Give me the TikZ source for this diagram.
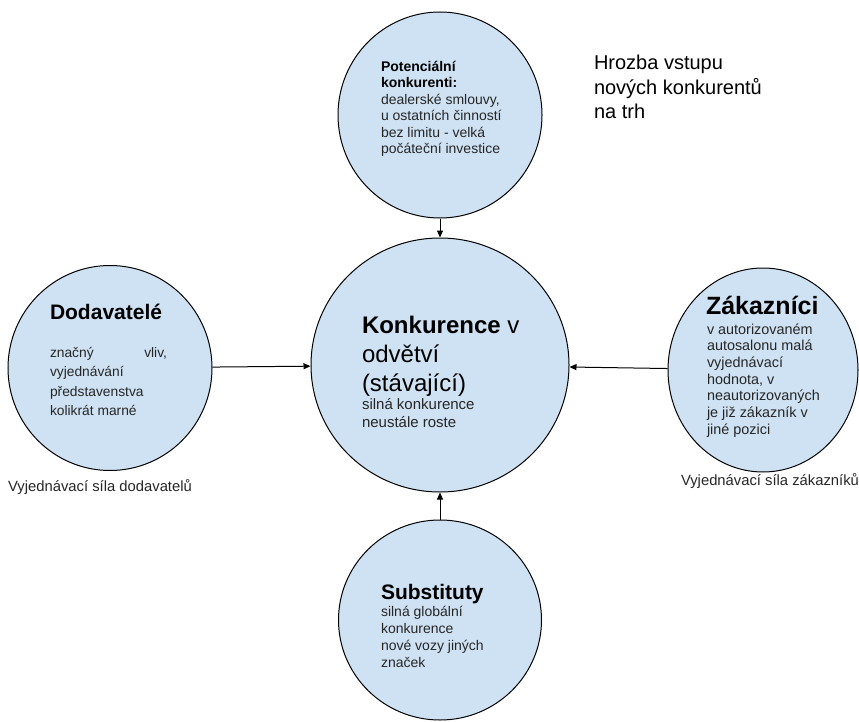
\documentclass[tikz,border=0pt]{standalone}
\usepackage{fontspec}
\setmainfont{Liberation Sans}
\usetikzlibrary{shapes.geometric,arrows.meta}

\definecolor{bubblefill}{HTML}{CFE2F3}
\definecolor{bodytext}{HTML}{262626}

% stacked lines of text whose first baseline sits at the node position
\newcommand\stackedlines[1]{\vtop{\parindent=0pt #1}}

\tikzset{
  bubble/.style={ellipse, draw=black, line width=1pt, fill=bubblefill, inner sep=0pt},
  txt/.style={anchor=base west, inner sep=0pt, outer sep=0pt, text=bodytext},
  caption/.style={anchor=base, inner sep=0pt, outer sep=0pt, text=bodytext,
    font=\fontsize{14.8}{17}\selectfont},
  flow/.style={-{Triangle[length=7pt,width=6pt]}, line width=1pt, draw=black},
}

\begin{document}
\begin{tikzpicture}[x=1pt, y=-1pt]
  \useasboundingbox (0,0) rectangle (859,722);

  % five forces
  \node[bubble, minimum width=204pt, minimum height=206pt] (pot) at (440,115) {};
  \node[bubble, minimum width=258pt, minimum height=254pt] (core) at (440,365) {};
  \node[bubble, minimum width=204pt, minimum height=205pt] (dod) at (110,368) {};
  \node[bubble, minimum width=190pt, minimum height=204pt] (zak) at (763,370) {};
  \node[bubble, minimum width=203pt, minimum height=200pt] (sub) at (440,620) {};

  % connectors towards the industry rivalry
  \draw[flow] (pot) -- (core);
  \draw[flow] (dod) -- (core);
  \draw[flow] (zak) -- (core);
  \draw[flow] (sub) -- (core);

  % potential entrants
  \node[txt] (pot-text) at (381,71.5) {\stackedlines{\fontsize{14}{16.5}\selectfont
    \hbox{\textcolor{black}{\bfseries Potenciální}}
    \hbox{\textcolor{black}{\bfseries konkurenti:}}
    \hbox{dealerské smlouvy,}
    \hbox{u ostatních činností}
    \hbox{bez limitu - velká}
    \hbox{počáteční investice}}};

  % rivalry
  \node[txt, text=black] (core-text) at (362,333) {\stackedlines{\fontsize{24}{29}\selectfont
    \hbox{\textbf{Konkurence} v}
    \hbox{odvětví}
    \hbox{(stávající)}
    \fontsize{15}{18}\selectfont
    \hbox{\textcolor{bodytext}{silná konkurence}}
    \hbox{\textcolor{bodytext}{neustále roste}}}};

  % suppliers
  \node[txt, text=black, font=\fontsize{21}{25}\selectfont\bfseries] (dod-title) at (50,319.5) {Dodavatelé};
  \node[txt] (dod-text) at (50,357) {\stackedlines{\fontsize{13.8}{19.5}\selectfont
    \hbox to 117pt{značný\hfill vliv,}
    \hbox{vyjednávání}
    \hbox{představenstva}
    \hbox{kolikrát marné}}};

  % customers
  \node[txt, text=black, font=\fontsize{25}{29}\selectfont\bfseries] (zak-title) at (706,314) {Zákazníci};
  \node[txt] (zak-text) at (707,334) {\stackedlines{\fontsize{14.4}{16.67}\selectfont
    \hbox{v autorizovaném}
    \hbox{autosalonu malá}
    \hbox{vyjednávací}
    \hbox{hodnota, v}
    \hbox{neautorizovaných}
    \hbox{je již zákazník v}
    \hbox{jiné pozici}}};

  % substitutes
  \node[txt, text=black, font=\fontsize{21}{25}\selectfont\bfseries] (sub-title) at (381,599.5) {Substituty};
  \node[txt] (sub-text) at (381,616) {\stackedlines{\fontsize{14}{17}\selectfont
    \hbox{silná globální}
    \hbox{konkurence}
    \hbox{nové vozy jiných}
    \hbox{značek}}};

  % captions
  \node[caption] (dod-caption) at (100,491) {Vyjednávací síla dodavatelů};
  \node[caption] (zak-caption) at (770,485) {Vyjednávací síla zákazníků};

  \node[txt, text=black] (threat) at (594,70) {\stackedlines{\fontsize{20}{24.5}\selectfont
    \hbox{Hrozba vstupu}
    \hbox{nových konkurentů}
    \hbox{na trh}}};
\end{tikzpicture}
\end{document}
